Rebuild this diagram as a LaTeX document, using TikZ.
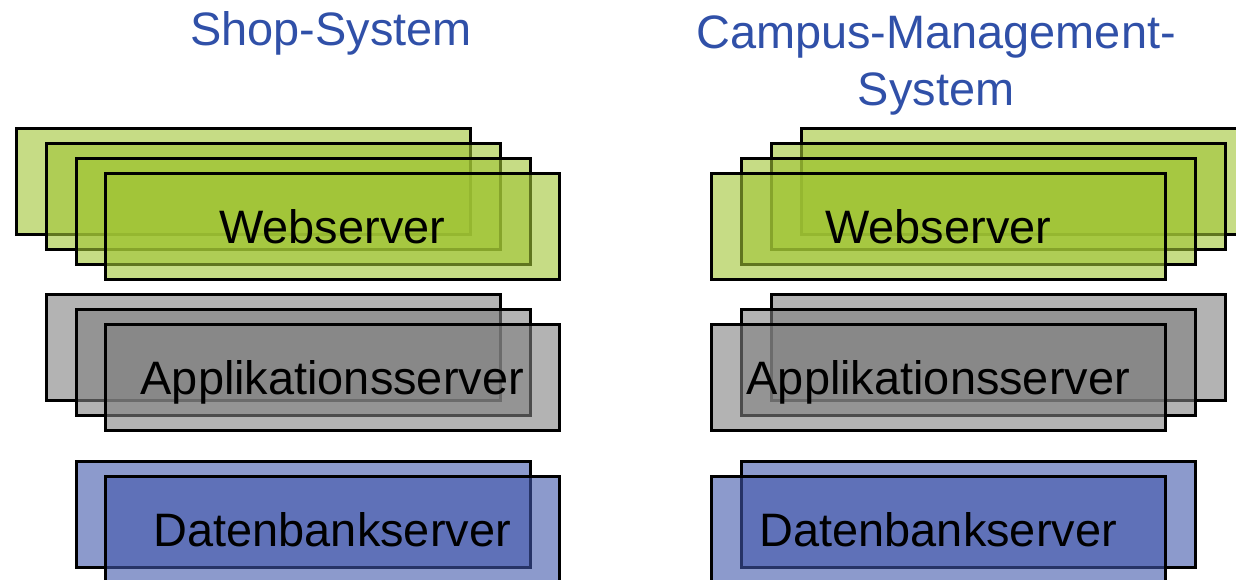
\documentclass[tikz,border=0pt]{standalone}
\usepackage{fontspec}
\setmainfont{Liberation Sans}

\definecolor{webgreen}{RGB}{160,196,52}
\definecolor{appgray}{RGB}{128,128,128}
\definecolor{dbblue}{RGB}{64,86,170}
\definecolor{titleblue}{RGB}{48,80,168}

\tikzset{
  tier/.style={draw=black, line width=1.5pt, fill opacity=0.6, text opacity=1,
    minimum width=9.08cm, minimum height=2.12cm, inner sep=0pt, anchor=north west,
    text height=19.2pt, text depth=0pt, font=\fontsize{26.7}{32}\selectfont},
  web/.style={tier, fill=webgreen},
  app/.style={tier, fill=appgray},
  db/.style={tier, fill=dbblue},
  systitle/.style={text=titleblue, align=center, anchor=base, font=\fontsize{26.7}{32.4}\selectfont}
}

\begin{document}
\begin{tikzpicture}[x=0.02cm, y=-0.02cm]
		\useasboundingbox (0, 0) rectangle (1236, 579);
		\clip (0, 0) rectangle (1236, 579);

		% titles (base of a two-line node is its last line)
		\node [systitle] (shoptitle) at (331, 45) {Shop-System};
		\node [systitle] (campustitle) at (936, 105) {Campus-Management-\\System};

		% Shop-System
		\node [web] (shopweb1) at (15, 127) {};
		\node [web] (shopweb2) at (45, 142) {};
		\node [web] (shopweb3) at (75, 157) {};
		\node [web] (shopweb4) at (104, 172) {Webserver};

		\node [app] (shopapp1) at (45, 293) {};
		\node [app] (shopapp2) at (75, 308) {};
		\node [app] (shopapp3) at (104, 323) {Applikationsserver};

		\node [db] (shopdb1) at (75, 460) {};
		\node [db] (shopdb2) at (104, 475) {Datenbankserver};

		% Campus-Management-System
		\node [web] (campusweb1) at (800, 127) {};
		\node [web] (campusweb2) at (770, 142) {};
		\node [web] (campusweb3) at (740, 157) {};
		\node [web] (campusweb4) at (710, 172) {Webserver};

		\node [app] (campusapp1) at (770, 293) {};
		\node [app] (campusapp2) at (740, 308) {};
		\node [app] (campusapp3) at (710, 323) {Applikationsserver};

		\node [db] (campusdb1) at (740, 460) {};
		\node [db] (campusdb2) at (710, 475) {Datenbankserver};
\end{tikzpicture}
\end{document}
